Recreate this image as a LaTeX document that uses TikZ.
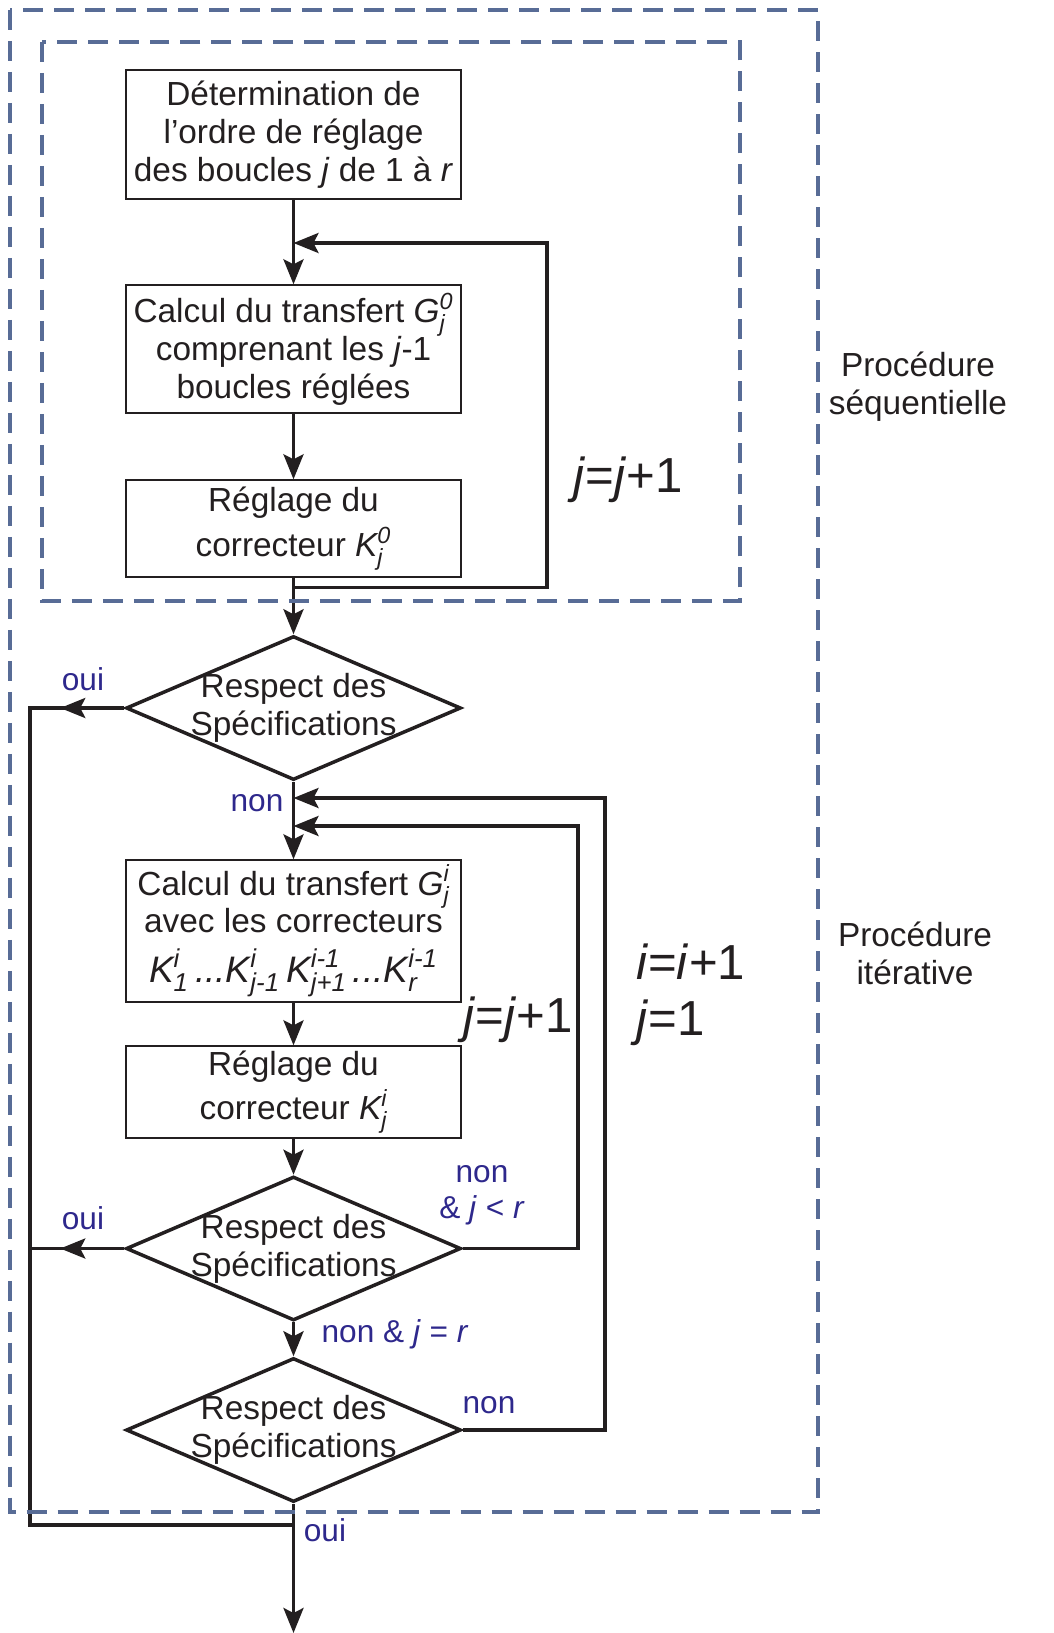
\documentclass[tikz,border=0pt]{standalone}
\usepackage{amsmath}
\usepackage{fontspec}
\setmainfont{Liberation Sans}
\usetikzlibrary{shapes.geometric,arrows.meta}
\definecolor{ink}{RGB}{35,31,32}
\definecolor{labelblue}{RGB}{46,40,140}
\definecolor{framecol}{RGB}{88,108,150}
\newcommand{\vr}[3]{$\textit{#1}_{\textit{#2}}^{\textit{#3}}$}
\begin{document}
\begin{tikzpicture}[x=0.02cm, y=-0.02cm,
  every node/.style={text=ink, font=\fontsize{19}{21.5}\selectfont},
  box/.style={draw=ink, line width=0.8pt, minimum width=6.7cm, align=center, inner sep=0pt},
  test/.style={draw=ink, line width=2pt, diamond, minimum width=6.7cm, minimum height=2.88cm, inner sep=0pt},
  flow/.style={draw=ink, line width=2pt},
  tip/.style={-{Stealth[length=0.5cm,width=0.4cm,inset=0.1cm]}},
  ans/.style={text=labelblue, font=\fontsize{18}{20.5}\selectfont},
  incr/.style={font=\fontsize{28}{32}\selectfont, align=left},
  frame/.style={draw=framecol, line width=2pt, dash pattern=on 0.4cm off 0.22cm}]
\useasboundingbox (0,0) rectangle (1054,1633);

% procedure sequentielle
\node[box, minimum height=2.58cm] (ordre) at (293.5,134.5) {D\'etermination de\\l’ordre de r\'eglage\\des boucles \textit{j} de 1 \`a \textit{r}};
\node[box, minimum height=2.56cm] (transf0) at (293.5,349) {Calcul du transfert \vr{G}{j}{0}\\comprenant les \textit{j}-1\\boucles r\'egl\'ees};
\node[box, minimum height=1.94cm] (regl0) at (293.5,528.5) {R\'eglage du\\[4pt]correcteur \vr{K}{j}{0}};
\node[test, label={[align=center]center:Respect des\\Sp\'ecifications}] (d1) at (293.5,708) {};

% procedure iterative
\node[box, minimum height=2.84cm] (transfi) at (293.5,931) {Calcul du transfert \vr{G}{j}{i}\\avec les correcteurs\\[7pt]{\fontsize{21}{24}\selectfont\vr{K}{1}{i}\,\textit{...}\vr{K}{j-1}{i}\,\vr{K}{j+1}{i-1}\,\textit{...}\vr{K}{r}{i-1}}};
\node[box, minimum height=1.84cm] (regli) at (293.5,1092) {R\'eglage du\\[4pt]correcteur \vr{K}{j}{i}};
\node[test, label={[align=center]center:Respect des\\Sp\'ecifications}] (d2) at (293.5,1248.5) {};
\node[test, label={[align=center]center:Respect des\\Sp\'ecifications}] (d3) at (293.5,1430) {};

\coordinate (loop0) at (547,243);
\coordinate (loopj) at (578,826);
\coordinate (loopi) at (605,798);
\coordinate (exit) at (30,1525);
\coordinate (bot) at (293.5,1633);

\draw[flow,tip] (ordre) -- (transf0);
\draw[flow,tip] (transf0) -- (regl0);
\draw[flow,tip] (regl0) -- (d1);
\draw[flow,tip] (regl0.south) -- ++(0,10) -| (loop0) -- (ordre.south |- loop0);
\draw[flow,tip] (d1) -- (transfi);
\draw[flow,tip] (transfi) -- (regli);
\draw[flow,tip] (regli) -- (d2);
\draw[flow,tip] (d2) -- (d3);
\draw[flow,tip] (d2.east) -| (loopj) -- (d1.south |- loopj);
\draw[flow,tip] (d3.east) -| (loopi) -- (d1.south |- loopi);
\draw[flow,tip] (d3) -- (bot);
\draw[flow] (d1.west) -| (exit) -- (d3.south |- exit);
\draw[flow] (d2.west) -- (d2.west -| exit);
\draw[flow,tip] (d1.west) -- ++(-64,0);
\draw[flow,tip] (d2.west) -- ++(-64,0);

% reponses
\node[ans] (oui1) at (83,679) {oui};
\node[ans] (non1) at (257,803) {non};
\node[ans] (oui2) at (83,1218) {oui};
\node[ans, align=center] (non2) at (482,1195) {non\\\& \textit{j} < \textit{r}};
\node[ans] (non3) at (395,1334) {non \& \textit{j} = \textit{r}};
\node[ans] (non4) at (489,1405) {non};
\node[ans] (oui3) at (325,1530) {oui};

\node[incr] (incj0) at (628,480) {\textit{j}=\textit{j}+1};
\node[incr] (incj) at (518,1020) {\textit{j}=\textit{j}+1};
\node[incr, anchor=west] (inci) at (630,995) {\textit{i}=\textit{i}+1\\\textit{j}=1};

\node[align=center] (seq) at (918,387) {Proc\'edure\\s\'equentielle};
\node[align=center] (iter) at (915,953) {Proc\'edure\\it\'erative};

\draw[frame] (10,10) rectangle (818,1512);
\draw[frame] (42,42) rectangle (740,601);
\end{tikzpicture}
\end{document}
